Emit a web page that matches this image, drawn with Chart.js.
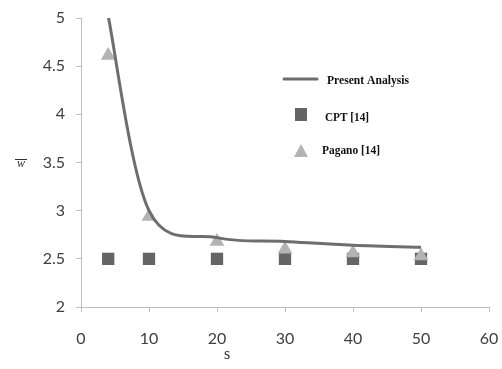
<!DOCTYPE html>
<html>
<head>
<meta charset="utf-8">
<script src="https://cdn.jsdelivr.net/npm/chart.js@4/dist/chart.umd.min.js"></script>
<style>
  html, body { margin: 0; padding: 0; background: #ffffff; }
  #wrap { position: relative; width: 502px; height: 369px; }
</style>
</head>
<body>
<div id="wrap"><canvas id="c" width="502" height="369"></canvas></div>
<script>
// Data
const sValues = [4, 10, 20, 30, 40, 50];
const presentAnalysis = [5.02, 3.0, 2.72, 2.68, 2.64, 2.62];
const cpt14 = [2.5, 2.5, 2.5, 2.5, 2.5, 2.5];
const pagano14 = [4.61, 2.94, 2.68, 2.6, 2.56, 2.53];
const xTicks = [0, 10, 20, 30, 40, 50, 60];
const yTicks = [2, 2.5, 3, 3.5, 4, 4.5, 5];

const seriesNames = ['Present Analysis', 'CPT [14]', 'Pagano [14]'];
const xTitle = 's';
const yTitle = 'w';

const lineColor = '#6e6e6e';
const squareColor = '#656565';
const triColor = '#b3b3b3';
const axisColor = '#bfbfbf';
const tickColor = '#404040';

const toPts = (xs, ys) => xs.map((x, i) => ({ x: x, y: ys[i] }));

// Excel-style smoothing: Catmull-Rom control points (1/6 of neighbour span)
const excelSmooth = {
  id: 'excelSmooth',
  beforeDatasetDraw(chart, args) {
    const meta = args.meta;
    if (!meta.dataset || !meta.dataset.options || !meta.dataset.options.tension) return;
    meta.dataset.updateControlPoints(chart.chartArea, 'x');
    const pts = meta.data;
    const n = pts.length;
    for (let i = 0; i < n; i++) {
      const p = pts[i];
      const prev = pts[Math.max(0, i - 1)];
      const next = pts[Math.min(n - 1, i + 1)];
      const dx = (next.x - prev.x) / 6;
      const dy = (next.y - prev.y) / 6;
      p.cp1x = p.x - dx; p.cp1y = p.y - dy;
      p.cp2x = p.x + dx; p.cp2y = p.y + dy;
    }
  }
};

const decorations = {
  id: 'decorations',
  afterDraw(chart) {
    const ctx = chart.ctx;
    ctx.save();
    // y-axis title (horizontal, w with overline)
    ctx.fillStyle = '#303030';
    ctx.font = 'italic 12px "Liberation Serif"';
    ctx.textAlign = 'center';
    ctx.textBaseline = 'alphabetic';
    ctx.fillText(yTitle, 21, 167);
    ctx.strokeStyle = '#303030';
    ctx.lineWidth = 1;
    ctx.beginPath();
    ctx.moveTo(15, 159.5);
    ctx.lineTo(27, 159.5);
    ctx.stroke();
    // x-axis title
    ctx.textBaseline = 'middle';
    ctx.font = '16px "Liberation Serif"';
    ctx.fillText(xTitle, 227, 355);

    // legend
    ctx.textAlign = 'left';
    ctx.font = 'bold 12px "Liberation Serif"';
    ctx.fillStyle = '#111111';
    ctx.strokeStyle = lineColor;
    ctx.lineWidth = 3;
    ctx.lineCap = 'round';
    ctx.beginPath();
    ctx.moveTo(284, 79);
    ctx.lineTo(317, 79);
    ctx.stroke();
    ctx.fillText(seriesNames[0], 327, 81, 82);
    ctx.fillStyle = squareColor;
    ctx.fillRect(295, 108, 12, 13);
    ctx.fillStyle = '#111111';
    ctx.fillText(seriesNames[1], 325, 118, 44);
    ctx.fillStyle = triColor;
    ctx.beginPath();
    ctx.moveTo(301, 144);
    ctx.lineTo(308, 157);
    ctx.lineTo(294, 157);
    ctx.closePath();
    ctx.fill();
    ctx.fillStyle = '#111111';
    ctx.fillText(seriesNames[2], 322, 151, 58);
    ctx.restore();
  }
};

new Chart(document.getElementById('c'), {
  type: 'scatter',
  data: {
    datasets: [
      {
        label: seriesNames[0],
        data: toPts(sValues, presentAnalysis),
        showLine: true,
        borderColor: lineColor,
        borderWidth: 3,
        pointRadius: 0,
        tension: 0.4,
        fill: false,
        order: 0
      },
      {
        label: seriesNames[2],
        data: toPts(sValues, pagano14),
        pointStyle: 'triangle',
        pointRadius: 8.5,
        backgroundColor: triColor,
        borderColor: triColor,
        borderWidth: 0,
        order: 1
      },
      {
        label: seriesNames[1],
        data: toPts(sValues, cpt14),
        pointStyle: 'rect',
        pointRadius: 8.7,
        backgroundColor: squareColor,
        borderColor: squareColor,
        borderWidth: 0,
        order: 2
      }
    ]
  },
  options: {
    responsive: false,
    animation: false,
    devicePixelRatio: 1,
    layout: { padding: { left: 0, right: 13, top: 18, bottom: 0 } },
    plugins: { legend: { display: false }, tooltip: { enabled: false } },
    scales: {
      x: {
        type: 'linear',
        min: 0, max: 60,
        afterBuildTicks(axis) { axis.ticks = xTicks.map(v => ({ value: v })); },
        afterFit(axis) { axis.height = 62; axis.paddingLeft = 0; axis.paddingRight = 0; },
        border: { color: axisColor, width: 1 },
        grid: { drawOnChartArea: false, drawTicks: true, tickLength: 5, color: axisColor },
        ticks: { color: tickColor, font: { family: 'Lato', size: 16 }, padding: 17, maxRotation: 0,
                 callback: v => String(v) }
      },
      y: {
        type: 'linear',
        min: 2, max: 5,
        afterBuildTicks(axis) { axis.ticks = yTicks.map(v => ({ value: v })); },
        afterFit(axis) { axis.width = 81; axis.paddingTop = 0; axis.paddingBottom = 0; },
        border: { color: axisColor, width: 1 },
        grid: { drawOnChartArea: false, drawTicks: true, tickLength: 5, color: axisColor },
        ticks: { color: tickColor, font: { family: 'Lato', size: 16 }, padding: 11,
                 callback: v => String(v) }
      }
    }
  },
  plugins: [excelSmooth, decorations]
});
</script>
</body>
</html>
